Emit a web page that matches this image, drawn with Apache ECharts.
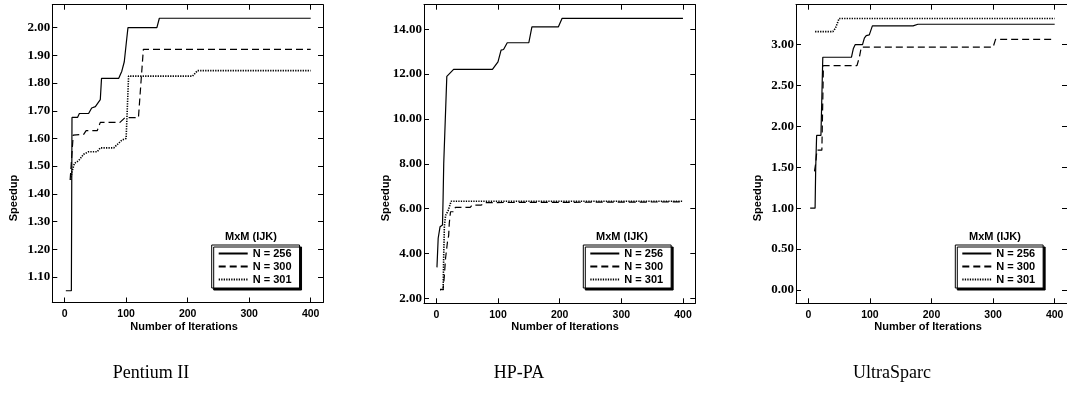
<!DOCTYPE html>
<html>
<head>
<meta charset="utf-8">
<script src="https://cdn.jsdelivr.net/npm/echarts@6/dist/echarts.min.js"></script>
<style>
  html, body { margin: 0; padding: 0; background: #fff; }
  #chart { width: 1067px; height: 398px; }
</style>
</head>
<body>
<div id="chart"></div>
<script>
// Shared tick values
const iterTicks = [0, 100, 200, 300, 400];
const pentiumTicks = [1.1, 1.2, 1.3, 1.4, 1.5, 1.6, 1.7, 1.8, 1.9, 2.0];
const hppaTicks = [2, 4, 6, 8, 10, 12, 14];
const ultraTicks = [0, 0.5, 1.0, 1.5, 2.0, 2.5, 3.0];

const seriesNames = ['N = 256', 'N = 300', 'N = 301'];
const captions = ['Pentium II', 'HP-PA', 'UltraSparc'];
const legendTitle = 'MxM (IJK)';
const xName = 'Number of Iterations';
const yName = 'Speedup';

// Pentium II speedup vs iterations  [iteration, speedup]
const pentium256 = [[2,1.05],[11,1.05],[12,1.676],[21,1.676],[24,1.69],[39,1.69],[44,1.71],[50,1.715],[53,1.72],[58,1.74],[60,1.817],[88,1.817],[93,1.843],[97,1.877],[99,1.877],[101,1.96],[103,2.0],[150,2.0],[154,2.034],[400,2.034]];
const pentium300 = [[9,1.45],[14,1.612],[31,1.615],[35,1.628],[53,1.628],[58,1.658],[90,1.658],[98,1.675],[120,1.675],[128,1.922],[400,1.922]];
const pentium301 = [[10,1.45],[12,1.48],[16,1.51],[23,1.52],[31,1.543],[39,1.552],[53,1.552],[58,1.566],[80,1.566],[93,1.594],[100,1.6],[104,1.825],[208,1.825],[216,1.845],[400,1.845]];

// HP-PA
const hppa256 = [[1,3.38],[3,4.68],[6,5.19],[10,5.27],[11,6.5],[12,8.0],[17,11.9],[19,11.95],[28,12.21],[91,12.21],[100,12.55],[105,13.07],[109,13.1],[115,13.4],[150,13.4],[155,14.11],[198,14.11],[204,14.49],[400,14.49]];
const hppa300 = [[6,2.4],[11,2.4],[13,3.0],[15,3.8],[18,4.5],[20,4.8],[21,5.35],[23,5.86],[28,5.86],[31,6.06],[55,6.06],[58,6.16],[73,6.16],[80,6.27],[400,6.3]];
const hppa301 = [[6,2.38],[11,2.38],[12,4.0],[13,5.2],[15,5.7],[19,5.9],[24,6.33],[400,6.33]];

// UltraSparc
const ultra256 = [[3,1.0],[11,1.0],[12,1.5],[13.5,1.89],[20.5,1.89],[23.5,2.846],[70,2.846],[73,2.95],[76,3.0],[88,3.0],[91,3.08],[94,3.11],[99,3.12],[104,3.23],[170,3.23],[178,3.25],[400,3.25]];
const ultra300 = [[10,1.45],[12,1.55],[14,1.71],[22,1.71],[24.5,2.743],[79,2.743],[83,2.85],[86,2.97],[300,2.97],[304,3.065],[400,3.065]];
const ultra301 = [[11,3.16],[40,3.16],[44,3.2],[50,3.32],[400,3.32]];

// Layout of the three panels
const panels = [
  { data: [pentium256, pentium300, pentium301], ticks: pentiumTicks, yMin: 1.0075, yMax: 2.083,
    left: 52.3, top: 4.7, width: 270.7, height: 297.8,
    legendLeft: 211.7, titleX: 251, yNameX: 14, xNameX: 184, captionX: 151 },
  { data: [hppa256, hppa300, hppa301], ticks: hppaTicks, yMin: 1.777, yMax: 15.097,
    left: 424, top: 4.7, width: 271.3, height: 298.6,
    legendLeft: 583.3, titleX: 622, yNameX: 386, xNameX: 565, captionX: 519 },
  { data: [ultra256, ultra300, ultra301], ticks: ultraTicks, yMin: -0.163, yMax: 3.489,
    left: 796, top: 4.7, width: 271.7, height: 298.6,
    legendLeft: 955.3, titleX: 995, yNameX: 758, xNameX: 928, captionX: 892 }
];

const lineStyles = [
  { type: 'solid', width: 1.2 },
  { type: [7, 4], width: 1.2 },
  { type: [1.3, 1.2], width: 1.6 }
];

const sansBold = { fontFamily: 'Liberation Sans', fontWeight: 'bold', color: '#000' };
const serifBold = { fontFamily: 'Liberation Serif', fontWeight: 'bold', color: '#000' };

const grid = [], xAxis = [], yAxis = [], series = [], legend = [], graphic = [];

panels.forEach((p, i) => {
  grid.push({ left: p.left, top: p.top, width: p.width, height: p.height, containLabel: false });
  const axisLine = { show: true, onZero: false, lineStyle: { color: '#000', width: 1 } };
  const tick = (vals) => ({ show: true, inside: true, length: 5, customValues: vals, lineStyle: { color: '#000', width: 1 } });
  // bottom + top x axes
  xAxis.push({
    type: 'value', gridIndex: i, position: 'bottom', min: -20, max: 420,
    axisLine, axisTick: tick(iterTicks), splitLine: { show: false },
    axisLabel: { customValues: iterTicks, margin: 6, fontSize: 10.5, ...sansBold }
  });
  xAxis.push({
    type: 'value', gridIndex: i, position: 'top', min: -20, max: 420,
    axisLine, axisTick: tick(iterTicks), splitLine: { show: false }, axisLabel: { show: false }
  });
  // left + right y axes
  yAxis.push({
    type: 'value', gridIndex: i, position: 'left', min: p.yMin, max: p.yMax,
    axisLine, axisTick: tick(p.ticks), splitLine: { show: false },
    axisLabel: { customValues: p.ticks, margin: 2, fontSize: 13, ...serifBold,
      formatter: v => v.toFixed(2) }
  });
  yAxis.push({
    type: 'value', gridIndex: i, position: 'right', min: p.yMin, max: p.yMax,
    axisLine, axisTick: tick(p.ticks), splitLine: { show: false }, axisLabel: { show: false }
  });

  p.data.forEach((d, k) => {
    series.push({
      name: seriesNames[k], type: 'line', data: d,
      xAxisIndex: 2 * i, yAxisIndex: 2 * i,
      symbol: 'none', smooth: false, silent: true,
      lineStyle: { color: '#000', ...lineStyles[k] },
      itemStyle: { color: '#000' }
    });
  });

  legend.push({
    data: seriesNames, orient: 'vertical', left: p.legendLeft, top: 245,
    itemWidth: 29, itemHeight: 10, itemGap: 2, padding: [3, 8, 3, 6],
    selectedMode: false, backgroundColor: '#fff',
    borderColor: '#000', borderWidth: 1,
    shadowColor: '#000', shadowBlur: 0.1, shadowOffsetX: 2, shadowOffsetY: 2,
    itemStyle: { opacity: 0 },
    textStyle: { fontSize: 11, ...sansBold }
  });

  graphic.push({
    type: 'text', x: p.titleX, y: 237, z: 100,
    style: { text: legendTitle, align: 'center', verticalAlign: 'middle',
      font: 'bold 11px "Liberation Sans"', fill: '#000' }
  });
  graphic.push({
    type: 'text', x: p.yNameX, y: 198, rotation: Math.PI / 2,
    style: { text: yName, align: 'center', verticalAlign: 'middle',
      font: 'bold 11px "Liberation Sans"', fill: '#000' }
  });
  graphic.push({
    type: 'text', x: p.xNameX, y: 327,
    style: { text: xName, align: 'center', verticalAlign: 'middle',
      font: 'bold 11px "Liberation Sans"', fill: '#000' }
  });
  graphic.push({
    type: 'text', x: p.captionX, y: 373,
    style: { text: captions[i], align: 'center', verticalAlign: 'middle',
      font: '18px "Liberation Serif"', fill: '#000' }
  });
});

const chart = echarts.init(document.getElementById('chart'), null, { renderer: 'canvas' });
chart.setOption({
  animation: false,
  backgroundColor: '#fff',
  grid, xAxis, yAxis, series, legend, graphic
});
</script>
</body>
</html>
